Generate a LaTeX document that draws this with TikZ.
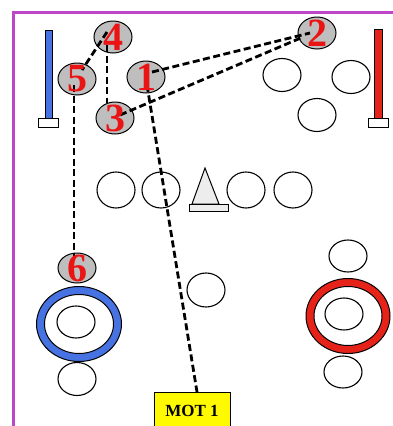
\documentclass[tikz,border=0pt]{standalone}
\usepackage{fontspec}
\setmainfont{Liberation Serif}
\usetikzlibrary{shapes.geometric}
\definecolor{frame}{RGB}{190,70,200}
\definecolor{pgray}{RGB}{190,190,190}
\definecolor{bluec}{RGB}{70,115,225}
\definecolor{redc}{RGB}{230,35,25}
\definecolor{numred}{RGB}{235,20,20}
\definecolor{mot}{RGB}{255,250,0}
\tikzset{
  player/.style={ellipse, draw=black, line width=1pt, fill=pgray, minimum width=38, minimum height=32, inner sep=0},
  cone/.style={ellipse, draw=black, line width=1.1pt, fill=white, minimum width=38, minimum height=33, inner sep=0},
  digit/.style={text=numred, font=\fontsize{40}{40}\selectfont\bfseries, inner sep=0},
  path/.style={draw=black, line width=2.8pt, dash pattern=on 7pt off 3.5pt},
  pole/.style={draw=black, line width=0.8pt},
  motbox/.style={draw=black, line width=1pt, fill=mot, minimum width=76, minimum height=36, inner sep=0, anchor=north, font=\fontsize{17}{17}\selectfont\bfseries},
}
\begin{document}
\begin{tikzpicture}[x=1pt,y=-1pt]
\useasboundingbox (0,0) rectangle (393,426);
\fill[white] (0,0) rectangle (393,426);
% frame
\draw[frame, line width=3pt] (13,430) -- (13,12) -- (395,12);
% poles
\draw[pole, fill=bluec] (45,30) rectangle (52,118);
\draw[pole, fill=white] (38,118) rectangle (58,127);
\draw[pole, fill=redc] (374,29) rectangle (382,118);
\draw[pole, fill=white] (368,118) rectangle (388,127);
% players
\node[player] (p4) at (113,37) {};
\node[player] (p5) at (77,79) {};
\node[player] (p1) at (146,77) {};
\node[player] (p3) at (115,118) {};
\node[player] (p2) at (317,33) {};
\node[player, minimum height=30] (p6) at (77,268) {};
% cones (white circles)
\node[cone] (c1) at (282,75) {};
\node[cone] (c2) at (351,77) {};
\node[cone] (c3) at (317,115) {};
\node[cone, minimum height=36] (r1) at (116,190) {};
\node[cone, minimum height=36] (r2) at (161,190) {};
\node[cone, minimum height=36] (r3) at (246,190) {};
\node[cone, minimum height=36] (r4) at (293,190) {};
\node[cone, minimum height=34] (m1) at (206,290) {};
% cone triangle
\draw[line width=1pt, fill=black!7] (205,168) -- (192,204) -- (219,204) -- cycle;
\draw[line width=1pt, fill=black!7] (189,204) rectangle (228,211);
% blue ring
\node[ellipse, draw=black, line width=1pt, fill=bluec, minimum width=85, minimum height=75, inner sep=0] (bring) at (79,324) {};
\node[ellipse, draw=black, line width=1pt, fill=white, minimum width=69, minimum height=59, inner sep=0] (bringin) at (79,324) {};
\node[cone, minimum height=32] (b1) at (76,322) {};
\node[cone, minimum height=33] (b2) at (77,379) {};
% red ring
\node[ellipse, draw=black, line width=1pt, fill=redc, minimum width=84, minimum height=75, inner sep=0] (rring) at (348,316) {};
\node[ellipse, draw=black, line width=1pt, fill=white, minimum width=68, minimum height=59, inner sep=0] (rringin) at (348,316) {};
\node[cone, minimum height=32] (rr1) at (344,314) {};
\node[cone, minimum height=32] (rr0) at (348,256) {};
\node[cone, minimum height=32] (rr2) at (343,372) {};
% MOT box
\node[motbox] (mot) at (192,392) {MOT 1};
% paths
\draw[path] ([shift={(-6,-5)}]p4.center) -- ([shift={(5,-9)}]p5.center);
\draw[path] ([shift={(-6,8)}]p4.center) -- ([shift={(-8,-15)}]p3.center);
\draw[path] ([shift={(-3,6)}]p5.center) -- ([shift={(-3,-8)}]p6.center);
\draw[path] ([shift={(6,-5)}]p1.center) -- ([shift={(-7,0)}]p2.center);
\draw[path] ([shift={(5,-3)}]p3.center) -- ([shift={(-14,4)}]p2.center);
\draw[path] ([shift={(1,8)}]p1.center) -- ([xshift=5]mot.north);
% digits
\node[digit] (d1) at (p1) {1};
\node[digit] (d2) at (p2) {2};
\node[digit] (d3) at (p3) {3};
\node[digit] (d4) at (p4) {4};
\node[digit] (d5) at (p5) {5};
\node[digit] (d6) at (p6) {6};
\end{tikzpicture}
\end{document}
